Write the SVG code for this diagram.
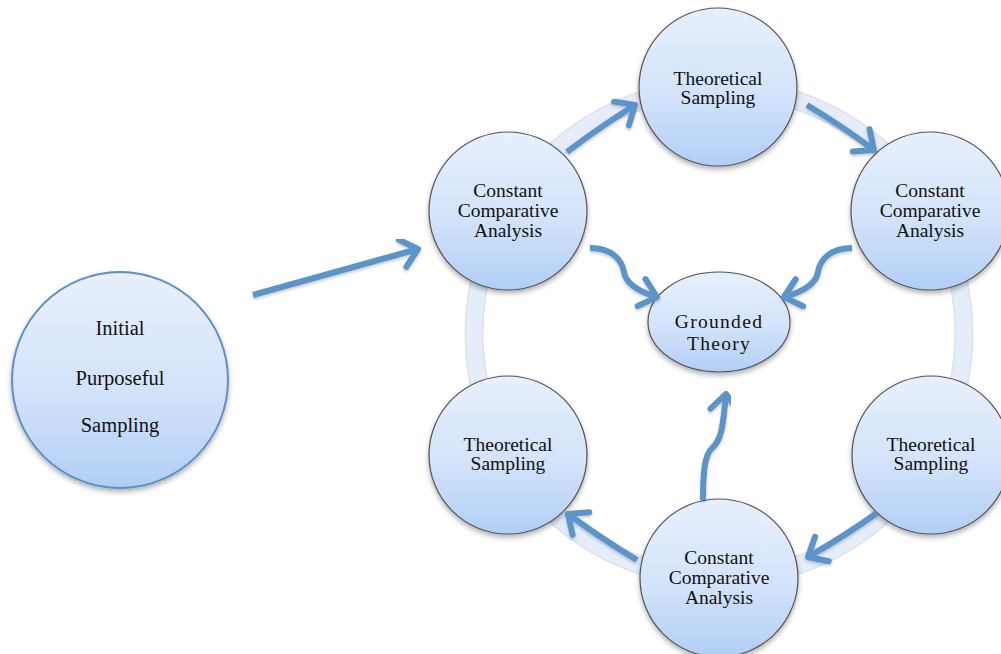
<svg xmlns="http://www.w3.org/2000/svg" width="1001" height="654" viewBox="0 0 1001 654">
<defs>
<linearGradient id="g" x1="0" y1="0" x2="0" y2="1">
<stop offset="0" stop-color="#e8f0fd"/>
<stop offset="0.55" stop-color="#d3e3fa"/>
<stop offset="1" stop-color="#b1cef6"/>
</linearGradient>
<filter id="sh" x="-20%" y="-20%" width="140%" height="150%">
<feDropShadow dx="0" dy="3" stdDeviation="2.5" flood-color="#000" flood-opacity="0.3"/>
</filter>
<filter id="ash" x="-20%" y="-20%" width="140%" height="150%">
<feDropShadow dx="0" dy="2" stdDeviation="1.5" flood-color="#000" flood-opacity="0.2"/>
</filter>
<marker id="ah" markerUnits="userSpaceOnUse" viewBox="-22 -18 26 36" refX="0" refY="0" markerWidth="26" markerHeight="36" orient="auto">
<path d="M-16,-14 L0,0 L-16,14" fill="none" stroke="#5b93c9" stroke-width="6" stroke-linecap="round" stroke-linejoin="round"/>
</marker>
<style>
.node{fill:url(#g);stroke:#555;stroke-width:1.2;filter:url(#sh)}
.t{font-family:"Liberation Serif",serif;font-size:19.5px;fill:#111;text-anchor:middle}
.gt{font-family:"Liberation Serif",serif;font-size:19.5px;letter-spacing:1.3px;fill:#111;text-anchor:middle}
.ip{font-family:"Liberation Serif",serif;font-size:20.5px;fill:#111;text-anchor:middle}
.c{fill:none;stroke:#5b93c9;stroke-width:6;marker-end:url(#ah);filter:url(#ash)}
</style>
</defs>
<rect width="1001" height="654" fill="#fff"/>
<g id="ring">
<circle cx="719" cy="333" r="245" fill="none" stroke="#dde2e9" stroke-width="19"/>
<circle cx="719" cy="333" r="245" fill="none" stroke="#e4edf9" stroke-width="16"/>
</g>
<g id="initial">
<circle cx="120" cy="380" r="108" fill="url(#g)" stroke="#5b8fc9" stroke-width="2" filter="url(#sh)"/>
<text class="ip" x="120" y="335">Initial</text>
<text class="ip" x="120" y="385">Purposeful</text>
<text class="ip" x="120" y="432">Sampling</text>
</g>
<g id="ts-top">
<circle class="node" cx="718" cy="87" r="79"/>
<text class="t" x="718" y="85">Theoretical</text>
<text class="t" x="718" y="104">Sampling</text>
</g>
<g id="cca-ul">
<circle class="node" cx="508" cy="211" r="79"/>
<text class="t" x="508" y="197">Constant</text>
<text class="t" x="508" y="217">Comparative</text>
<text class="t" x="508" y="237">Analysis</text>
</g>
<g id="cca-ur">
<circle class="node" cx="930" cy="211" r="79"/>
<text class="t" x="930" y="197">Constant</text>
<text class="t" x="930" y="217">Comparative</text>
<text class="t" x="930" y="237">Analysis</text>
</g>
<g id="ts-ll">
<circle class="node" cx="508" cy="455" r="79"/>
<text class="t" x="508" y="451">Theoretical</text>
<text class="t" x="508" y="470">Sampling</text>
</g>
<g id="ts-lr">
<circle class="node" cx="931" cy="455" r="79"/>
<text class="t" x="931" y="451">Theoretical</text>
<text class="t" x="931" y="470">Sampling</text>
</g>
<g id="cca-bottom">
<circle class="node" cx="719" cy="578" r="79"/>
<text class="t" x="719" y="564">Constant</text>
<text class="t" x="719" y="584">Comparative</text>
<text class="t" x="719" y="604">Analysis</text>
</g>
<g id="grounded">
<ellipse class="node" cx="719" cy="322" rx="71" ry="50"/>
<text class="gt" x="719" y="328">Grounded</text>
<text class="gt" x="719" y="350">Theory</text>
</g>
<g id="connectors">
<path class="c" d="M253,295 L418,249"/>
<path class="c" d="M567,152 Q600,127 635,105"/>
<path class="c" d="M807,105 Q842,126 874,150"/>
<path class="c" d="M949,297 L949,365"/>
<path class="c" d="M877,513 Q843,537 808,557"/>
<path class="c" d="M637,560 Q602,539 568,514"/>
<path class="c" d="M492,368 L492,300"/>
<path class="c" d="M590,248 C612,248 622,260 624,272 C626,285 640,292 657,297"/>
<path class="c" d="M852,248 C830,248 820,260 818,272 C816,285 802,292 784,297"/>
<path class="c" d="M703,500 C703,470 705,455 712,448 C722,440 723,425 726,394"/>
</g>
</svg>
